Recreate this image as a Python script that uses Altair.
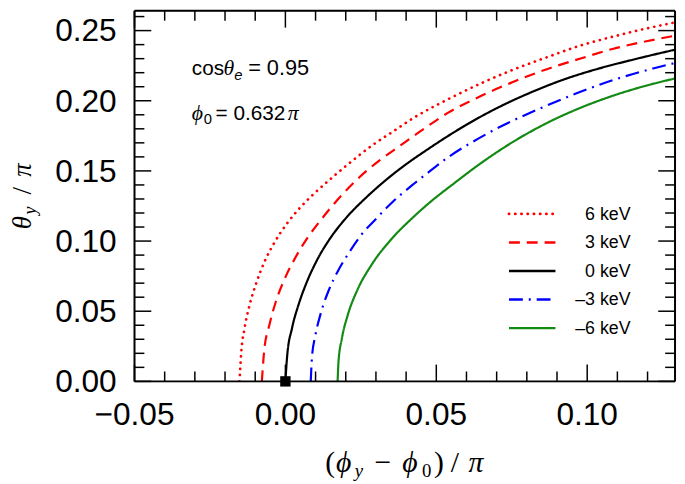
import altair as alt
import pandas as pd

# ---------------- data ----------------
series = ["6 keV", "3 keV", "0 keV", "–3 keV", "–6 keV"]

x_p6 = [-0.0152, -0.0146, -0.0135, -0.0119, -0.0097, -0.0070, -0.0037, 0.0007, 0.0039, 0.0094,
        0.0160, 0.0225, 0.0290, 0.0356, 0.0421, 0.0541, 0.0651, 0.0760, 0.0869, 0.0978,
        0.1087, 0.1196, 0.1293]
y_p6 = [0.0, 0.0214, 0.0381, 0.0541, 0.0697, 0.0849, 0.0987, 0.1130, 0.1215, 0.1336,
        0.1462, 0.1578, 0.1686, 0.1780, 0.1873, 0.2013, 0.2127, 0.2226, 0.2312, 0.2394,
        0.2458, 0.2515, 0.2559]

x_p3 = [-0.0078, -0.0070, -0.0053, -0.0032, -0.0004, 0.0029, 0.0072, 0.0116, 0.0181, 0.0247,
        0.0312, 0.0378, 0.0443, 0.0541, 0.0651, 0.0760, 0.0869, 0.0978, 0.1087, 0.1196, 0.1293]
y_p3 = [0.0, 0.0224, 0.0402, 0.0566, 0.0723, 0.0866, 0.1019, 0.1146, 0.1314, 0.1458,
        0.1575, 0.1677, 0.1776, 0.1917, 0.2037, 0.2139, 0.2227, 0.2301, 0.2371, 0.2424, 0.2464]

x_0 = [0.0, 0.0006, 0.0022, 0.0044, 0.0071, 0.0104, 0.0147, 0.0202, 0.0268, 0.0333,
       0.0399, 0.0464, 0.0508, 0.0595, 0.0704, 0.0813, 0.0922, 0.1031, 0.1141, 0.1293]
y_0 = [0.0, 0.0184, 0.0379, 0.0549, 0.0708, 0.0861, 0.1015, 0.1167, 0.1311, 0.1435,
       0.1546, 0.1643, 0.1706, 0.1823, 0.1951, 0.2059, 0.2151, 0.2225, 0.2287, 0.2365]

x_m3 = [0.0084, 0.0088, 0.0099, 0.0116, 0.0143, 0.0176, 0.0210, 0.0250, 0.0301, 0.0356,
        0.0421, 0.0465, 0.0541, 0.0639, 0.0727, 0.0847, 0.0967, 0.1087, 0.1218, 0.1293]
y_m3 = [0.0, 0.0171, 0.0324, 0.0476, 0.0646, 0.0794, 0.0915, 0.1040, 0.1160, 0.1280,
        0.1400, 0.1475, 0.1600, 0.1730, 0.1831, 0.1948, 0.2055, 0.2148, 0.2230, 0.2270]

x_m6 = [0.0173, 0.0176, 0.0187, 0.0206, 0.0238, 0.0285, 0.0350, 0.0420, 0.0476, 0.0558,
        0.0651, 0.0749, 0.0869, 0.0978, 0.1087, 0.1196, 0.1293]
y_m6 = [0.0, 0.0141, 0.0304, 0.0468, 0.0649, 0.0829, 0.1011, 0.1163, 0.1271, 0.1410,
        0.1560, 0.1700, 0.1844, 0.1950, 0.2037, 0.2108, 0.2160]

marker_x = [0.0]
marker_y = [0.0]

x_tick_labels = [-0.05, 0.0, 0.05, 0.10]
y_tick_labels = [0.0, 0.05, 0.10, 0.15, 0.20, 0.25]
x_minor = [-0.04, -0.03, -0.02, -0.01, 0.01, 0.02, 0.03, 0.04, 0.06, 0.07, 0.08, 0.09, 0.11, 0.12]
y_minor = [0.01, 0.02, 0.03, 0.04, 0.06, 0.07, 0.08, 0.09, 0.11, 0.12, 0.13, 0.14,
           0.16, 0.17, 0.18, 0.19, 0.21, 0.22, 0.23, 0.24, 0.26]

# ---------------- styles ----------------
colors = ["#ff0000", "#ff0000", "#000000", "#0000ff", "#138a13"]
dashes = [[0.1, 6.2], [11, 7], [1, 0], [14, 6, 2, 6], [1, 0]]
caps = ["round", "butt", "butt", "butt", "butt"]

W, H = 547, 375
SANS = "Liberation Sans"
SERIF = "Liberation Serif"

rows = []
for name, xs, ys in zip(series, [x_p6, x_p3, x_0, x_m3, x_m6], [y_p6, y_p3, y_0, y_m3, y_m6]):
    for i, (a, b) in enumerate(zip(xs, ys)):
        rows.append({"series": name, "x": a, "y": b, "i": i})
df = pd.DataFrame(rows)

xscale = alt.Scale(domain=[-0.05, 0.1291], nice=False, zero=False)
yscale = alt.Scale(domain=[0.0, 0.2641], nice=False, zero=False)
X = lambda: alt.X("x:Q", scale=xscale, axis=None)
Y = lambda: alt.Y("y:Q", scale=yscale, axis=None)

layers = []

for name, col, dash, cap in zip(series, colors, dashes, caps):
    layers.append(
        alt.Chart(df).transform_filter(alt.datum.series == name)
        .mark_line(color=col, strokeDash=dash, strokeCap=cap, interpolate="monotone",
                   strokeWidth=2.7 if cap == "round" else 2.2, clip=True)
        .encode(x=X(), y=Y(), order="i:Q")
    )

# black square marker
layers.append(
    alt.Chart(pd.DataFrame({"x": marker_x, "y": marker_y}))
    .mark_square(size=110, color="black", opacity=1, filled=True)
    .encode(x=X(), y=Y())
)

# frame
frame = pd.DataFrame({"t": [0]})
layers += [
    alt.Chart(frame).mark_rule(color="black", strokeWidth=2).encode(
        x=alt.value(0), x2=alt.value(W), y=alt.value(H)),
    alt.Chart(frame).mark_rule(color="black", strokeWidth=2).encode(
        x=alt.value(0), x2=alt.value(W), y=alt.value(0)),
    alt.Chart(frame).mark_rule(color="black", strokeWidth=2).encode(
        y=alt.value(0), y2=alt.value(H), x=alt.value(0)),
    alt.Chart(frame).mark_rule(color="black", strokeWidth=2).encode(
        y=alt.value(0), y2=alt.value(H), x=alt.value(W)),
]

# inward ticks on all four sides
def xticks(vals, length):
    d = pd.DataFrame({"x": vals})
    bottom = alt.Chart(d).mark_rule(color="black", strokeWidth=1.5).encode(
        x=X(), y=alt.value(H), y2=alt.value(H - length))
    top = alt.Chart(d).mark_rule(color="black", strokeWidth=1.5).encode(
        x=X(), y=alt.value(0), y2=alt.value(length))
    return [bottom, top]

def yticks(vals, length):
    d = pd.DataFrame({"y": vals})
    left = alt.Chart(d).mark_rule(color="black", strokeWidth=1.5).encode(
        y=Y(), x=alt.value(0), x2=alt.value(length))
    right = alt.Chart(d).mark_rule(color="black", strokeWidth=1.5).encode(
        y=Y(), x=alt.value(W), x2=alt.value(W - length))
    return [left, right]

layers += xticks(x_tick_labels, 17) + xticks(x_minor, 10)
layers += yticks(y_tick_labels, 17) + yticks(y_minor, 10)

# tick labels, placed through the scales
layers.append(
    alt.Chart(pd.DataFrame({"x": x_tick_labels}))
    .transform_calculate(lab="format(datum.x, '.2f')")
    .mark_text(align="center", baseline="alphabetic", font=SANS, fontSize=32, color="black")
    .encode(x=X(), y=alt.value(H + 44), text="lab:N")
)
layers.append(
    alt.Chart(pd.DataFrame({"y": y_tick_labels}))
    .transform_calculate(lab="format(datum.y, '.2f')")
    .mark_text(align="right", baseline="alphabetic", font=SANS, fontSize=32, color="black", dy=11)
    .encode(y=Y(), x=alt.value(-18), text="lab:N")
)

# manual legend
for k, (name, col, dash, cap) in enumerate(zip(series, colors, dashes, caps)):
    yy = 205.5 + 28.9 * k
    layers.append(
        alt.Chart(pd.DataFrame({"t": [name]})).mark_rule(
            color=col, strokeDash=dash, strokeCap=cap,
            strokeWidth=2.9 if cap == "round" else 2.4)
        .encode(x=alt.value(379), x2=alt.value(426), y=alt.value(yy))
    )
    layers.append(
        alt.Chart(pd.DataFrame({"t": [name]})).mark_text(
            align="right", baseline="middle", font=SANS, fontSize=18, color="black")
        .encode(text="t:N", x=alt.value(502), y=alt.value(yy + 1))
    )

# free text pieces
def txt(s, x, y, size, font=SANS, style="normal", angle=0, align="left", baseline="alphabetic"):
    return alt.Chart(pd.DataFrame({"t": [s]})).mark_text(
        align=align, baseline=baseline, font=font, fontSize=size, fontStyle=style,
        angle=angle, color="black").encode(text="t:N", x=alt.value(x), y=alt.value(y))

# annotation: cos(theta_e) = 0.95 ; phi_0 = 0.632 pi
layers += [
    txt("cos", 58, 65, 21),
    txt("θ", 90, 65, 22, SERIF, "italic"),
    txt("e", 101, 70, 15, SANS, "italic"),
    txt("= 0.95", 115, 65, 22),
    txt("ϕ", 58, 110, 22, SERIF, "italic"),
    txt("0", 70, 115, 15),
    txt("= 0.632", 82, 110, 21),
    txt("π", 155, 110, 22, SERIF, "italic"),
]

# x-axis title: (phi_y - phi_0) / pi
TY = 467
layers += [
    txt("(", 193, TY, 30, SERIF),
    txt("ϕ", 204, TY, 30, SERIF, "italic"),
    txt("y", 223, TY + 5, 19, SERIF, "italic"),
    txt("−", 243, TY, 30, SERIF),
    txt("ϕ", 271, TY, 30, SERIF, "italic"),
    txt("0", 291, TY + 5, 19, SERIF),
    txt(")", 303, TY, 30, SERIF),
    txt("/", 320, TY, 30, SERIF),
    txt("π", 338, TY, 30, SERIF, "italic"),
]

# y-axis title: theta_y / pi (rotated)
TX = -105
layers += [
    txt("θ", TX, 221, 27, SERIF, "italic", angle=270),
    txt("y", TX + 5, 206, 18, SERIF, "italic", angle=270),
    txt("/", TX, 186, 27, SERIF, angle=270),
    txt("π", TX, 168, 27, SERIF, "italic", angle=270),
]

chart = alt.layer(*layers).properties(
    width=W, height=H,
    autosize=alt.AutoSizeParams(type="none"),
    padding={"left": 128, "top": 0, "right": 2, "bottom": 101},
).configure_view(stroke="black", strokeWidth=2).configure(background="white")

chart.save("out.html", embed_options={"renderer": "svg", "actions": False})
